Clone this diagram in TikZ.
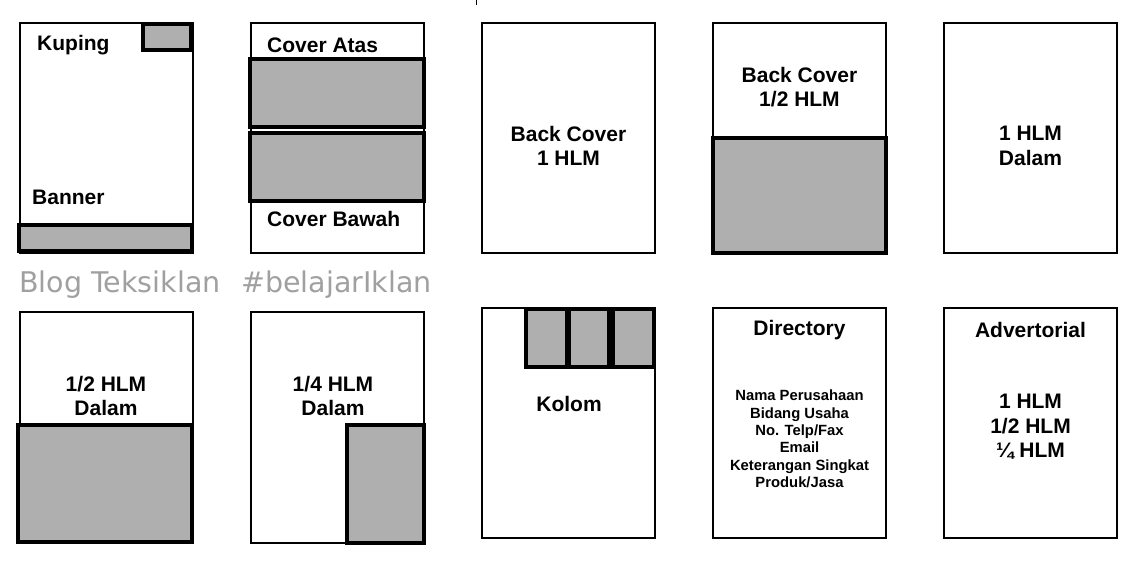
\documentclass[tikz,border=0pt]{standalone}
\usepackage{fontspec}
\setmainfont{Liberation Sans}
\newfontfamily\wmfont{DejaVu Sans}
\definecolor{adgray}{HTML}{AFAFAF}
\definecolor{wmgray}{HTML}{A0A0A0}
\tikzset{
  pagebox/.style={draw=black, line width=1.6pt, fill=white, anchor=north west, minimum width=173pt, minimum height=230pt, inner sep=0pt, outer sep=0pt},
  adbox/.style={draw=black, line width=3.2pt, fill=adgray, anchor=north west, inner sep=0pt, outer sep=0pt},
  lbl/.style={font=\bfseries\fontsize{21}{24.5}\selectfont, align=center, inner sep=0pt},
  small/.style={font=\bfseries\fontsize{14.8}{17.4}\selectfont, align=center, inner sep=0pt},
  wm/.style={font=\wmfont\fontsize{28.5}{32}\selectfont, text=wmgray, anchor=west, inner sep=0pt}
}
\begin{document}
\begin{tikzpicture}[x=1pt,y=-1pt]
\useasboundingbox (0,0) rectangle (1144,560);
% tiny tick at top
\coordinate (tk1) at (476,0);
\coordinate (tk2) at (476,5);
\draw[line width=1pt] (tk1) -- (tk2);
% Row 1
\node[pagebox] (p1) at (20,23) {};
\node[adbox, minimum width=48pt, minimum height=26pt] (kup) at (143,24) {};
\node[adbox, minimum width=173pt, minimum height=26pt] (ban) at (19,225) {};
\node[lbl, anchor=west] (tkup) at (37,45) {Kuping};
\node[lbl, anchor=west] (tban) at (32,197) {Banner};

\node[pagebox] (p2) at (251,23) {};
\node[adbox, minimum width=174pt, minimum height=68pt] (ca) at (250,59) {};
\node[adbox, minimum width=174pt, minimum height=68pt] (cb) at (250,133) {};
\node[lbl, anchor=west] (tca) at (267,45) {Cover Atas};
\node[lbl, anchor=west] (tcb) at (267,219) {Cover Bawah};

\node[pagebox] (p3) at (482,23) {};
\node[lbl] (tbc) at (568.5,146) {Back Cover\\1 HLM};

\node[pagebox] (p4) at (713,23) {};
\node[adbox, minimum width=173pt, minimum height=115pt] (bch) at (713,138) {};
\node[lbl] (tbch) at (799.5,87) {Back Cover\\1/2 HLM};

\node[pagebox] (p5) at (944,23) {};
\node[lbl] (t1d) at (1030.5,146) {1 HLM\\Dalam};

% watermark
\node[wm] (wm1) at (19,285) {Blog Teksiklan};
\node[wm] (wm2) at (241,285) {\#belajarIklan};

% Row 2
\node[pagebox, minimum height=231pt] (p6) at (20,312) {};
\node[adbox, minimum width=174pt, minimum height=117pt] (hd) at (18,425) {};
\node[lbl] (thd) at (106,396) {1/2 HLM\\Dalam};

\node[pagebox, minimum height=231pt] (p7) at (251,312) {};
\node[adbox, minimum width=77pt, minimum height=118pt] (qd) at (347,425) {};
\node[lbl] (tqd) at (333,396) {1/4 HLM\\Dalam};

\node[pagebox] (p8) at (482,308) {};
\node[adbox, minimum width=41pt, minimum height=58pt] (k1) at (526,309) {};
\node[adbox, minimum width=40pt, minimum height=58pt] (k2) at (569,309) {};
\node[adbox, minimum width=41pt, minimum height=58pt] (k3) at (613,309) {};
\node[lbl] (tkol) at (569,404) {Kolom};

\node[pagebox] (p9) at (713,308) {};
\node[lbl] (tdir) at (799.5,330) {Directory};
\node[small] (tdirl) at (799.5,439) {Nama Perusahaan\\Bidang Usaha\\No. Telp/Fax\\Email\\Keterangan Singkat\\Produk/Jasa};

\node[pagebox] (p10) at (944,308) {};
\node[lbl] (tadv) at (1030.5,330) {Advertorial};
\node[lbl] (tadvl) at (1030.5,427) {1 HLM\\1/2 HLM\\¼ HLM};
\end{tikzpicture}
\end{document}
